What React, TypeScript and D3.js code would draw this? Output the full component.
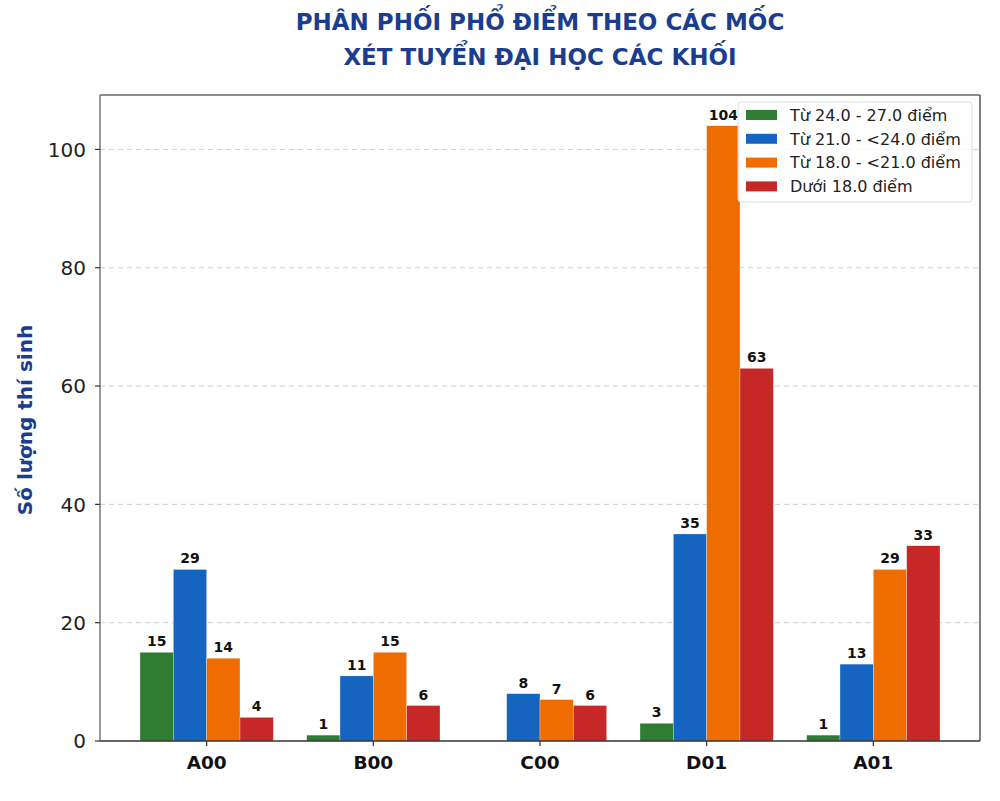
import React from "react";
import * as d3 from "d3";

const categories = ["A00", "B00", "C00", "D01", "A01"];
const seriesNames = ["Từ 24.0 - 27.0 điểm", "Từ 21.0 - <24.0 điểm", "Từ 18.0 - <21.0 điểm", "Dưới 18.0 điểm"];
const seriesColors = ["#2e7d32", "#1565c0", "#ef6c00", "#c62828"];
const s1 = [15, 1, 0, 3, 1];
const s2 = [29, 11, 8, 35, 13];
const s3 = [14, 15, 7, 104, 29];
const s4 = [4, 6, 6, 63, 33];
const seriesValues = [s1, s2, s3, s4];
const yTicks = [0, 20, 40, 60, 80, 100];

const W = 1000, H = 801;
const left = 100, right = 980, top = 95, bottom = 741;
const FONT = "DejaVu Sans, sans-serif";

export default function App() {
  const x = d3.scaleLinear().domain([-0.64, 4.64]).range([left, right]);
  const y = d3.scaleLinear().domain([0, 109.2]).range([bottom, top]);
  const bw = 0.2;
  const offsets = [-0.3, -0.1, 0.1, 0.3];

  return (
    <svg width={W} height={H} style={{ position: "absolute", left: 0, top: 0, background: "#fff" }} fontFamily={FONT}>
      <rect x={0} y={0} width={W} height={H} fill="#fff" />
      <text x={540} y={30} textAnchor="middle" fontSize={23} fontWeight="bold" fill="#1a3d8f">PHÂN PHỐI PHỔ ĐIỂM THEO CÁC MỐC</text>
      <text x={540} y={65} textAnchor="middle" fontSize={23} fontWeight="bold" fill="#1a3d8f">XÉT TUYỂN ĐẠI HỌC CÁC KHỐI</text>

      {yTicks.filter(t => t > 0).map(t => (
        <line key={"g" + t} x1={left} x2={right} y1={y(t)} y2={y(t)} stroke="#bbb" strokeWidth={1} strokeDasharray="5,4" opacity={0.7} />
      ))}

      {seriesValues.map((vals, si) =>
        vals.map((v, ci) => {
          const x0 = x(ci + offsets[si] - bw / 2);
          const x1 = x(ci + offsets[si] + bw / 2);
          return (
            <g key={`b${si}-${ci}`}>
              {v > 0 && (
                <rect x={x0} y={y(v)} width={x1 - x0} height={y(0) - y(v)} fill={seriesColors[si]} stroke="#fff" strokeWidth={0.3} />
              )}
              {v > 0 && (
                <text x={(x0 + x1) / 2} y={y(v) - 6} textAnchor="middle" fontSize={14} fontWeight="bold" fill="#111">{v}</text>
              )}
            </g>
          );
        })
      )}

      {/* spines */}
      <line x1={left} x2={right} y1={top} y2={top} stroke="#666" strokeWidth={1.5} />
      <line x1={right} x2={right} y1={top} y2={bottom} stroke="#555" strokeWidth={1.5} />
      <line x1={left} x2={left} y1={top} y2={bottom} stroke="#777" strokeWidth={1.5} />
      <line x1={left} x2={right} y1={bottom} y2={bottom} stroke="#333" strokeWidth={1.5} />

      {yTicks.map(t => (
        <g key={"yt" + t}>
          <line x1={left - 5} x2={left} y1={y(t)} y2={y(t)} stroke="#333" strokeWidth={1.2} />
          <text x={left - 14} y={y(t)} dy="0.36em" textAnchor="end" fontSize={20} fill="#222">{t}</text>
        </g>
      ))}

      {categories.map((c, i) => (
        <g key={"xt" + c}>
          <line x1={x(i)} x2={x(i)} y1={bottom} y2={bottom + 5} stroke="#333" strokeWidth={1.2} />
          <text x={x(i)} y={bottom + 28} textAnchor="middle" fontSize={18.5} fontWeight="bold" fill="#111">{c}</text>
        </g>
      ))}

      <text transform={`translate(32,420) rotate(-90)`} textAnchor="middle" fontSize={20} fontWeight="bold" fill="#1a3d8f">Số lượng thí sinh</text>

      <g>
        <rect x={738} y={102} width={234} height={100} fill="#fff" fillOpacity={0.85} stroke="#ddd" strokeWidth={1} rx={3} />
        {seriesNames.map((n, i) => (
          <g key={"lg" + i}>
            <rect x={746} y={110 + i * 23.8} width={31} height={10} fill={seriesColors[i]} />
            <text x={790} y={115 + i * 23.8} dy="0.36em" fontSize={16} fill="#222">{n}</text>
          </g>
        ))}
      </g>
    </svg>
  );
}
